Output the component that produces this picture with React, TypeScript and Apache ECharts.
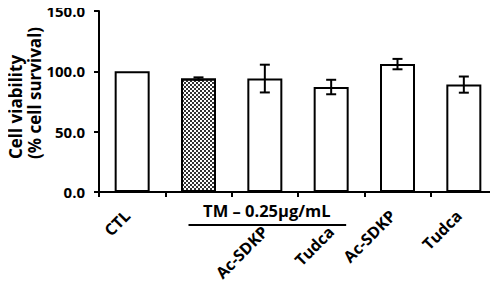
import React, { useEffect, useRef } from "react";
import * as echarts from "echarts";

const categories = ["CTL", "TM", "TM+Ac-SDKP", "TM+Tudca", "Ac-SDKP", "Tudca"];
const labelsRow1 = ["CTL", "", "", "", "Ac-SDKP", "Tudca"];
const labelsRow2 = ["", "", "Ac-SDKP", "Tudca", "", ""];
const means = [100, 94, 94, 87, 106, 89];
const errors = [0, 1, 11.5, 6, 4.3, 6.7];
const yTicks = [0, 50, 100, 150];
const groupLabel = "TM – 0.25µg/mL";

const FONT = "Open Sans";

export default function App() {
  const ref = useRef<HTMLDivElement>(null);
  useEffect(() => {
    const chart = echarts.init(ref.current!, null, { renderer: "svg" });
    const gridLeft = 99;
    const gridRight = 1;
    const gridTop = 11;
    const gridBottom = 98;
    const W = 498;
    const plotW = W - gridLeft - gridRight;
    const catW = plotW / categories.length;
    const cx = (i: number) => gridLeft + catW * (i + 0.5);
    const labelStyle = {
      interval: 0,
      rotate: 45,
      color: "#000",
      fontFamily: FONT,
      fontWeight: "bold",
      fontSize: 16,
    };
    const option: any = {
      animation: false,
      backgroundColor: "#fff",
      grid: { left: gridLeft, right: gridRight, top: gridTop, bottom: gridBottom },
      xAxis: [
        {
          type: "category",
          data: categories,
          axisLine: { lineStyle: { color: "#000", width: 2 } },
          axisTick: { show: true, length: 5, lineStyle: { color: "#000", width: 2 } },
          axisLabel: {
            ...labelStyle,
            margin: 16,
            padding: [0, 7, 0, 0],
            formatter: (_v: string, i: number) => labelsRow1[i],
          },
        },
        {
          type: "category",
          data: categories,
          position: "bottom",
          axisLine: { show: false },
          axisTick: { show: false },
          axisLabel: {
            ...labelStyle,
            margin: 37,
            padding: [0, 0, 0, 0],
            formatter: (_v: string, i: number) => labelsRow2[i],
          },
        },
      ],
      yAxis: {
        type: "value",
        min: yTicks[0],
        max: yTicks[yTicks.length - 1],
        interval: 50,
        splitLine: { show: false },
        axisLine: { show: true, lineStyle: { color: "#000", width: 2 } },
        axisTick: { show: true, length: 5, lineStyle: { color: "#000", width: 2 } },
        axisLabel: {
          margin: 14,
          color: "#000",
          fontFamily: FONT,
          fontWeight: "bold",
          fontSize: 15,
          formatter: (v: number) => v.toFixed(1),
        },
      },
      series: [
        {
          type: "bar",
          barWidth: 35,
          data: means.map((v, i) => ({
            value: v,
            itemStyle:
              i === 1
                ? {
                    color: "#fff",
                    borderColor: "#000",
                    borderWidth: 2,
                    decal: {
                      symbol: "rect",
                      symbolSize: 1,
                      color: "#333",
                      backgroundColor: "#fff",
                      dashArrayX: [
                        [2, 2],
                        [0, 2, 2, 0],
                      ],
                      dashArrayY: [2, 0],
                    },
                  }
                : { color: "#fff", borderColor: "#000", borderWidth: 2 },
          })),
        },
        {
          type: "custom",
          data: means.map((v, i) => [i, v, errors[i]]),
          renderItem: (_p: any, api: any) => {
            const i = api.value(0);
            const m = api.value(1);
            const e = api.value(2);
            if (!e) return null;
            const top = api.coord([i, m + e]);
            const bot = api.coord([i, m - e]);
            const hw = 5;
            const st = { stroke: "#000", lineWidth: 2 };
            return {
              type: "group",
              children: [
                { type: "line", shape: { x1: top[0], y1: top[1], x2: bot[0], y2: bot[1] }, style: st },
                { type: "line", shape: { x1: top[0] - hw, y1: top[1], x2: top[0] + hw, y2: top[1] }, style: st },
                { type: "line", shape: { x1: bot[0] - hw, y1: bot[1], x2: bot[0] + hw, y2: bot[1] }, style: st },
              ],
            };
          },
          z: 5,
        },
      ],
      graphic: [
        {
          type: "text",
          x: 15,
          y: 107,
          rotation: Math.PI / 2,
          style: {
            text: "Cell viability",
            fill: "#000",
            fontFamily: FONT,
            fontWeight: "bold",
            fontSize: 17,
            align: "center",
            verticalAlign: "middle",
          },
        },
        {
          type: "text",
          x: 34,
          y: 93,
          rotation: Math.PI / 2,
          style: {
            text: "(% cell survival)",
            fill: "#000",
            fontFamily: FONT,
            fontWeight: "bold",
            fontSize: 17,
            align: "center",
            verticalAlign: "middle",
          },
        },
        {
          type: "text",
          x: (cx(1) + cx(3)) / 2 + 2,
          y: 210,
          style: {
            text: groupLabel,
            fill: "#000",
            fontFamily: FONT,
            fontWeight: "bold",
            fontSize: 16.5,
            align: "center",
            verticalAlign: "middle",
          },
        },
        {
          type: "line",
          shape: { x1: cx(1) - 10, y1: 225, x2: cx(3) + 15, y2: 225 },
          style: { stroke: "#000", lineWidth: 2 },
        },
      ],
    };
    chart.setOption(option);
    return () => chart.dispose();
  }, []);
  return <div ref={ref} style={{ width: 498, height: 290, margin: -8 }} />;
}
